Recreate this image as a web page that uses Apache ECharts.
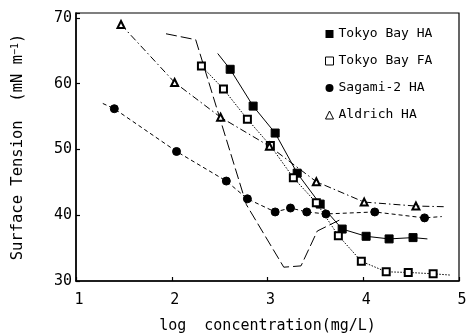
<!DOCTYPE html>
<html>
<head>
<meta charset="utf-8">
<script src="https://cdn.jsdelivr.net/npm/echarts@6/dist/echarts.min.js"></script>
<style>
  html, body { margin: 0; padding: 0; background: #fff; }
  #chart { width: 468px; height: 333px; }
</style>
</head>
<body>
<div id="chart"></div>
<script>
// Surface tension of humic / fulvic acid solutions vs. log concentration
const seriesNames = ['Tokyo Bay HA', 'Tokyo Bay FA', 'Sagami-2 HA', 'Aldrich HA'];

// measured points [log concentration, surface tension]
const tokyoBayHA = [[2.61, 62.2], [2.85, 56.6], [3.08, 52.5], [3.31, 46.4], [3.55, 41.7],
                    [3.78, 37.9], [4.03, 36.8], [4.27, 36.4], [4.52, 36.6]];
const tokyoBayFA = [[2.31, 62.7], [2.54, 59.2], [2.79, 54.6], [3.03, 50.6], [3.27, 45.7],
                    [3.51, 41.9], [3.74, 36.9], [3.98, 33.0], [4.24, 31.4], [4.47, 31.3], [4.73, 31.1]];
const sagami2HA = [[1.40, 56.2], [2.05, 49.7], [2.57, 45.2], [2.79, 42.5], [3.08, 40.5],
                   [3.24, 41.1], [3.41, 40.5], [3.61, 40.2], [4.12, 40.5], [4.64, 39.6]];
const aldrichHA = [[1.47, 69.0], [2.03, 60.2], [2.51, 54.9], [3.02, 50.5], [3.51, 45.1],
                   [4.01, 42.0], [4.55, 41.4]];

// where each fitted line runs past its first / last point (null = starts at the point)
const tokyoBayHATails = [[2.48, 64.6], [4.67, 36.4]];
const tokyoBayFATails = [null, [4.91, 30.9]];
const sagami2HATails = [[1.28, 57.0], [4.82, 39.8]];
const aldrichHATails = [null, [4.84, 41.3]];

// unmarked long-dashed curve
const longDashCurve = [[1.94, 67.6], [2.25, 66.7], [2.78, 41.6], [3.17, 32.1],
                       [3.35, 32.3], [3.52, 37.6], [3.77, 39.4]];

const xTicks = [1, 2, 3, 4, 5];
const yTicks = [30, 40, 50, 60, 70];

const FONT = '"DejaVu Sans Mono", monospace';

function withTails(points, tails) {
  const data = points.map(p => ({ value: p }));
  if (tails[0]) data.unshift({ value: tails[0], symbol: 'none' });
  if (tails[1]) data.push({ value: tails[1], symbol: 'none' });
  return data;
}

function lineSeries(name, points, tails, symbol, size, dash) {
  return {
    name: name,
    type: 'line',
    data: withTails(points, tails),
    symbol: symbol,
    symbolSize: size,
    showAllSymbol: true,
    z: 3,
    itemStyle: { color: '#000', borderColor: '#000', borderWidth: 1 },
    lineStyle: { color: '#000', width: 1, type: dash },
    emphasis: { disabled: true },
    animation: false
  };
}

const chart = echarts.init(document.getElementById('chart'), null, { renderer: 'canvas' });

chart.setOption({
  backgroundColor: '#fff',
  animation: false,
  grid: {
    left: 76, right: 9, top: 13, bottom: 52,
    containLabel: false, outerBoundsMode: 'none',
    show: true, borderColor: '#000', borderWidth: 1.2, backgroundColor: 'transparent'
  },
  legend: {
    orient: 'vertical',
    left: 320, top: 22,
    itemWidth: 8, itemHeight: 8, itemGap: 13,
    textStyle: { fontFamily: FONT, fontSize: 13, lineHeight: 14, color: '#000' },
    data: [
      { name: seriesNames[0], icon: 'rect', itemStyle: { color: '#000', borderWidth: 0 } },
      { name: seriesNames[1], icon: 'rect', itemStyle: { color: '#fff', borderColor: '#000', borderWidth: 1 } },
      { name: seriesNames[2], icon: 'circle', itemStyle: { color: '#000', borderWidth: 0 } },
      { name: seriesNames[3], icon: 'triangle', itemStyle: { color: '#fff', borderColor: '#000', borderWidth: 1 } }
    ],
    selectedMode: false
  },
  xAxis: {
    type: 'value',
    min: xTicks[0], max: xTicks[xTicks.length - 1], interval: 1,
    name: 'log  concentration(mg/L)',
    nameLocation: 'middle', nameGap: 38,
    nameTextStyle: { fontFamily: FONT, fontSize: 15, color: '#000' },
    axisLine: { lineStyle: { color: '#000', width: 1.5 } },
    axisTick: { inside: true, length: 4, lineStyle: { color: '#000', width: 1.2 } },
    axisLabel: {
      fontFamily: FONT, fontSize: 15, color: '#000', margin: 12, padding: [0, 0, 0, 6],
      formatter: v => (xTicks.indexOf(v) >= 0 ? String(v) : '')
    },
    splitLine: { show: false }
  },
  yAxis: {
    type: 'value',
    min: 30, max: 70.76, interval: 10,
    name: 'Surface Tension  (mN m{sup|−1})',
    nameLocation: 'middle', nameGap: 50, nameRotate: 90,
    nameTextStyle: {
      fontFamily: FONT, fontSize: 15.5, color: '#000',
      rich: { sup: { fontFamily: FONT, fontSize: 10, color: '#000', verticalAlign: 'top', padding: [0, 0, 6, 0] } }
    },
    axisLine: { lineStyle: { color: '#000', width: 1.5 } },
    axisTick: { inside: true, length: 4, lineStyle: { color: '#000', width: 1.2 } },
    axisLabel: {
      fontFamily: FONT, fontSize: 15, color: '#000', margin: 4,
      formatter: v => (yTicks.indexOf(v) >= 0 ? String(v) : '')
    },
    splitLine: { show: false }
  },
  series: [
    lineSeries(seriesNames[0], tokyoBayHA, tokyoBayHATails, 'rect', 8, 'solid'),
    lineSeries(seriesNames[1], tokyoBayFA, tokyoBayFATails, 'emptyRect', 7, [1.5, 1.5]),
    lineSeries(seriesNames[2], sagami2HA, sagami2HATails, 'circle', 8, [4, 3]),
    lineSeries(seriesNames[3], aldrichHA, aldrichHATails, 'emptyTriangle', 7, [7, 3, 1.5, 3]),
    {
      name: 'long dash',
      type: 'line',
      data: longDashCurve,
      symbol: 'none',
      z: 2,
      lineStyle: { color: '#000', width: 1, type: [11, 4] },
      emphasis: { disabled: true },
      animation: false
    }
  ]
});
</script>
</body>
</html>
